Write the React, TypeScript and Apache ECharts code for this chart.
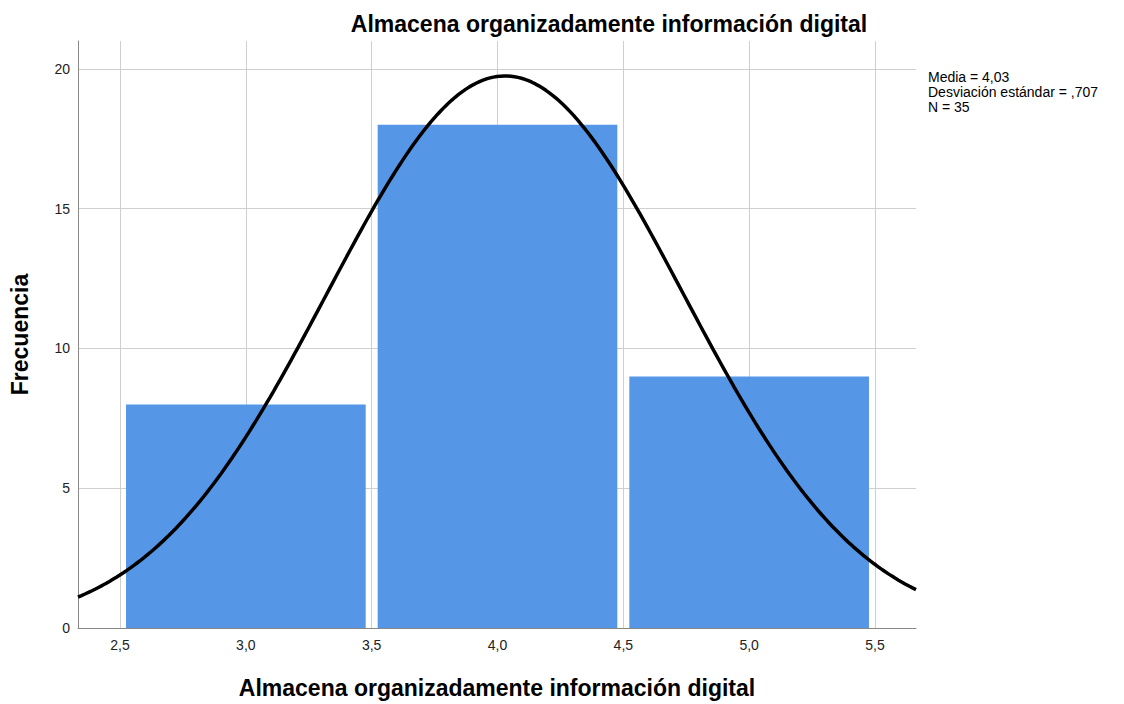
import React, { useEffect, useRef } from "react";
import * as echarts from "echarts";

const TITLE = "Almacena organizadamente información digital";
const X_NAME = "Almacena organizadamente información digital";
const Y_NAME = "Frecuencia";
const BIN_STARTS = [2.5, 3.5, 4.5];
const BIN_ENDS = [3.5, 4.5, 5.5];
const COUNTS = [8, 18, 9];
const X_TICKS = [2.5, 3.0, 3.5, 4.0, 4.5, 5.0, 5.5];
const Y_TICKS = [0, 5, 10, 15, 20];
const MEAN = 4.03;
const SD = 0.707;
const N = 35;
const BIN_WIDTH = 1;
const STATS = ["Media = 4,03", "Desviación estándar = ,707", "N = 35"];
const X_MIN = 2.333;
const X_MAX = 5.663;

function normalCurve(): number[][] {
  const pts: number[][] = [];
  const steps = 240;
  for (let i = 0; i <= steps; i++) {
    const x = X_MIN + ((X_MAX - X_MIN) * i) / steps;
    const z = (x - MEAN) / SD;
    const y = (N * BIN_WIDTH) / (SD * Math.sqrt(2 * Math.PI)) * Math.exp(-0.5 * z * z);
    pts.push([x, y]);
  }
  return pts;
}

export default function App() {
  const ref = useRef<HTMLDivElement>(null);
  useEffect(() => {
    if (!ref.current) return;
    const chart = echarts.init(ref.current, undefined, { renderer: "svg" });
    const font = "Liberation Sans, Arial, sans-serif";
    const barData = COUNTS.map((c, i) => [BIN_STARTS[i], BIN_ENDS[i], c]);
    chart.setOption({
      animation: false,
      backgroundColor: "#ffffff",
      grid: {
        left: 78,
        right: 208,
        top: 41,
        bottom: 76,
        containLabel: false,
        outerBoundsMode: "none",
      },
      title: {
        text: TITLE,
        left: 604,
        top: 7,
        textAlign: "center",
        textStyle: { fontFamily: font, fontSize: 23, fontWeight: "bold", color: "#000" },
      },
      graphic: [
        {
          type: "text",
          left: 928,
          top: 69,
          style: {
            text: STATS.join("\n"),
            font: "14px Liberation Sans, Arial, sans-serif",
            fill: "#000",
            lineHeight: 15,
          },
        },
      ],
      xAxis: {
        type: "value",
        min: X_MIN,
        max: X_MAX,
        name: X_NAME,
        nameLocation: "middle",
        nameGap: 48,
        nameTextStyle: { fontFamily: font, fontSize: 23, fontWeight: "bold", color: "#000" },
        axisLine: { show: true, lineStyle: { color: "#888", width: 1 } },
        axisTick: { show: false, customValues: X_TICKS },
        axisLabel: {
          customValues: X_TICKS,
          formatter: (v: number) => v.toFixed(1).replace(".", ","),
          fontFamily: font,
          fontSize: 14,
          color: "#222",
          margin: 10,
        },
        splitLine: { show: true, lineStyle: { color: "#cfcfcf", width: 1 } },
      },
      yAxis: {
        type: "value",
        min: 0,
        max: 21,
        name: Y_NAME,
        nameLocation: "middle",
        nameGap: 47,
        nameRotate: 90,
        nameTextStyle: { fontFamily: font, fontSize: 23, fontWeight: "bold", color: "#000" },
        axisLine: { show: true, lineStyle: { color: "#888", width: 1 } },
        axisTick: { show: false, customValues: Y_TICKS },
        axisLabel: {
          customValues: Y_TICKS,
          fontFamily: font,
          fontSize: 14,
          color: "#222",
          margin: 8,
        },
        splitLine: { show: true, lineStyle: { color: "#cfcfcf", width: 1 } },
      },
      series: [
        {
          type: "custom",
          data: barData,
          encode: { x: [0, 1], y: 2 },
          renderItem: (params: any, api: any) => {
            const start = api.coord([api.value(0), api.value(2)]);
            const end = api.coord([api.value(1), 0]);
            const inset = 6;
            return {
              type: "rect",
              shape: {
                x: start[0] + inset,
                y: start[1],
                width: end[0] - start[0] - 2 * inset,
                height: end[1] - start[1],
              },
              style: { fill: "#5596e6", stroke: "none" },
            };
          },
          z: 2,
        },
        {
          type: "line",
          data: normalCurve(),
          showSymbol: false,
          symbol: "none",
          smooth: false,
          lineStyle: { color: "#000", width: 3.5 },
          z: 3,
        },
      ],
    });
    return () => chart.dispose();
  }, []);
  return (
    <div
      ref={ref}
      style={{ position: "absolute", left: 0, top: 0, width: 1124, height: 704 }}
    />
  );
}
